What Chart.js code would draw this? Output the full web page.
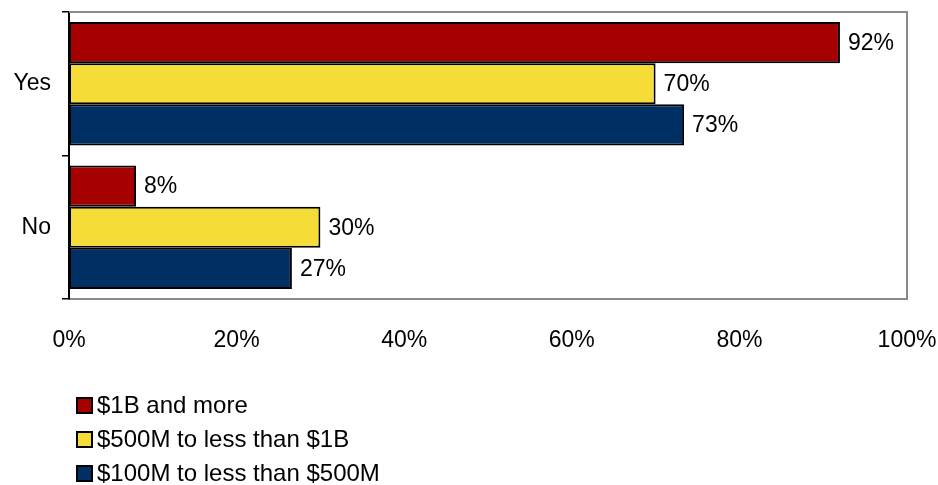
<!DOCTYPE html>
<html>
<head>
<meta charset="utf-8">
<script src="https://cdn.jsdelivr.net/npm/chart.js@4"></script>
<style>
  html, body { margin: 0; padding: 0; background: #fff; }
  #wrap { width: 938px; height: 485px; position: relative; }
</style>
</head>
<body>
<div id="wrap"><canvas id="surveyChart"></canvas></div>
<script>
const categories = ['Yes', 'No'];
const seriesNames = ['$1B and more', '$500M to less than $1B', '$100M to less than $500M'];
const big = [92, 8];
const mid = [70, 30];
const small = [73.4, 26.6];
const xTicks = [0, 20, 40, 60, 80, 100];

const FONT = 'Arial, "Liberation Sans", sans-serif';
const colors = ['#a50000', '#f6dc37', '#003063'];

// dessine le cadre gris (haut + droite)
const frame = {
    id: 'frame',
    beforeDatasetsDraw(chart) {
        const a = chart.chartArea, ctx = chart.ctx;
        ctx.save();
        ctx.strokeStyle = '#8a8a8a';
        ctx.lineWidth = 2;
        ctx.beginPath();
        ctx.moveTo(a.left, a.top);
        ctx.lineTo(a.right, a.top);
        ctx.lineTo(a.right, a.bottom);
        ctx.stroke();
        ctx.restore();
    }
};

// étiquettes de valeur au bout des barres
const valueLabels = {
    id: 'valueLabels',
    afterDatasetsDraw(chart) {
        const ctx = chart.ctx;
        ctx.save();
        ctx.font = '23px ' + FONT;
        ctx.fillStyle = '#000';
        ctx.textAlign = 'left';
        ctx.textBaseline = 'middle';
        chart.data.datasets.forEach((ds, i) => {
            chart.getDatasetMeta(i).data.forEach((bar, j) => {
                ctx.fillText(Math.round(ds.data[j]) + '%', bar.x + 8, bar.y + 1);
            });
        });
        ctx.restore();
    }
};

// légende verticale en bas à gauche
const stackedLegend = {
    id: 'stackedLegend',
    afterDraw(chart) {
        const ctx = chart.ctx;
        ctx.save();
        ctx.font = '24px ' + FONT;
        ctx.textBaseline = 'middle';
        chart.data.datasets.forEach((ds, i) => {
            const y = 405 + i * 34;
            ctx.fillStyle = ds.backgroundColor;
            ctx.fillRect(77, y - 7, 15, 15);
            ctx.strokeStyle = '#000';
            ctx.lineWidth = 2;
            ctx.strokeRect(77, y - 7, 15, 15);
            ctx.fillStyle = '#000';
            ctx.fillText(ds.label, 97, y + 1);
        });
        ctx.restore();
    }
};

const ctx = document.getElementById('surveyChart').getContext('2d');
new Chart(ctx, {
    type: 'bar',
    data: {
        labels: categories,
        datasets: [big, mid, small].map((d, i) => ({
            label: seriesNames[i],
            data: d,
            backgroundColor: colors[i],
            borderColor: '#000',
            borderWidth: 2,
            borderSkipped: false,
            barPercentage: 1,
            categoryPercentage: 0.86
        }))
    },
    options: {
        indexAxis: 'y',
        responsive: true,
        maintainAspectRatio: false,
        animation: false,
        layout: { padding: { top: 12, right: 31, bottom: 136, left: 0 } },
        plugins: { legend: { display: false }, tooltip: { enabled: false } },
        scales: {
            x: {
                min: 0,
                max: 100,
                afterBuildTicks(axis) { axis.ticks = xTicks.map(v => ({ value: v })); },
                afterFit(axis) {
                    axis.height = 50;
                    axis.paddingLeft = 0;
                    axis.paddingRight = 0;
                },
                grid: { display: false, drawTicks: false },
                border: { display: true, color: '#8a8a8a', width: 2 },
                ticks: {
                    padding: 28,
                    color: '#000',
                    maxRotation: 0,
                    font: { family: FONT, size: 23 },
                    callback: v => v + '%'
                }
            },
            y: {
                afterFit(axis) {
                    axis.width = 69;
                    axis.paddingTop = 0;
                    axis.paddingBottom = 0;
                },
                grid: { drawOnChartArea: false, color: '#000', tickLength: 7, lineWidth: 1.5 },
                border: { display: true, color: '#000', width: 2 },
                ticks: {
                    padding: 11,
                    color: '#000',
                    font: { family: FONT, size: 23 }
                }
            }
        }
    },
    plugins: [frame, valueLabels, stackedLegend]
});
</script>
</body>
</html>
